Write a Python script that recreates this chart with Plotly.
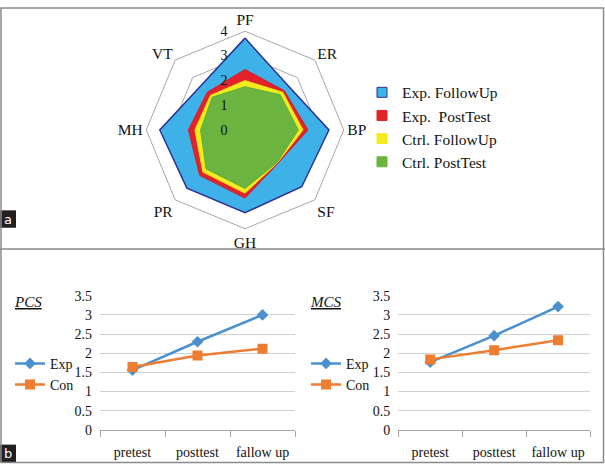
import plotly.graph_objects as go

W, H = 605, 472

# ---- radar data (order clockwise from top) ----
radar_axes = ["PF", "ER", "BP", "SF", "GH", "PR", "MH", "VT"]
exp_followup = [3.72, 2.50, 3.40, 3.25, 3.35, 3.33, 3.45, 2.53]
exp_posttest = [2.45, 2.25, 2.55, 1.90, 2.76, 2.60, 2.29, 2.16]
ctrl_followup = [2.00, 2.16, 2.35, 1.87, 2.56, 2.41, 2.03, 1.98]
ctrl_posttest = [1.75, 2.02, 2.16, 1.85, 2.37, 2.23, 1.80, 1.88]
radar_names = ["Exp. FollowUp", "Exp.  PostTest", "Ctrl. FollowUp", "Ctrl. PostTest"]
radar_colors = ["#3EB2E8", "#E3222A", "#F2EC1C", "#6BB43F"]
radar_lines = ["#2E3192", "#D0202A", "#E8E020", "#64AC3A"]

# ---- line charts ----
phases = ["pretest", "posttest", "fallow up"]
pcs_exp = [1.56, 2.30, 3.00]
pcs_con = [1.64, 1.94, 2.12]
mcs_exp = [1.77, 2.46, 3.22]
mcs_con = [1.84, 2.08, 2.34]

SERIF = "Liberation Serif, Times New Roman, serif"
EXP_C = "#4A90CF"
CON_C = "#ED7D31"

fig = go.Figure()

for vals, name, col, lc in zip([exp_followup, exp_posttest, ctrl_followup, ctrl_posttest],
                               radar_names, radar_colors, radar_lines):
    fig.add_trace(go.Scatterpolar(
        r=vals + vals[:1], theta=radar_axes + radar_axes[:1],
        mode="lines", fill="toself", fillcolor=col,
        line=dict(color=lc, width=1.5 if lc == "#2E3192" else 1),
        showlegend=False, hoverinfo="skip"))
# legend entries (square swatches)
for name, col, lc in zip(radar_names, radar_colors, radar_lines):
    fig.add_trace(go.Scatterpolar(
        r=[None], theta=[radar_axes[0]], mode="markers", name=name,
        marker=dict(symbol="square", size=10, color=col,
                    line=dict(color=lc if lc == "#2E3192" else col, width=1)),
        legend="legend"))

# PCS
fig.add_trace(go.Scatter(x=phases, y=pcs_exp, name="Exp", mode="lines+markers",
                         line=dict(color=EXP_C, width=2.5),
                         marker=dict(symbol="diamond", size=9, color=EXP_C),
                         xaxis="x", yaxis="y", legend="legend2"))
fig.add_trace(go.Scatter(x=phases, y=pcs_con, name="Con", mode="lines+markers",
                         line=dict(color=CON_C, width=2.5),
                         marker=dict(symbol="square", size=10, color=CON_C),
                         xaxis="x", yaxis="y", legend="legend2"))
# MCS
fig.add_trace(go.Scatter(x=phases, y=mcs_exp, name="Exp", mode="lines+markers",
                         line=dict(color=EXP_C, width=2.5),
                         marker=dict(symbol="diamond", size=9, color=EXP_C),
                         xaxis="x2", yaxis="y2", legend="legend3"))
fig.add_trace(go.Scatter(x=phases, y=mcs_con, name="Con", mode="lines+markers",
                         line=dict(color=CON_C, width=2.5),
                         marker=dict(symbol="square", size=10, color=CON_C),
                         xaxis="x2", yaxis="y2", legend="legend3"))

def px(x):
    return x / W

def py(y):
    return 1 - y / H

cx, cy, R = 245, 127, 102
xa_common = dict(type="category", tickson="boundaries", ticks="outside", ticklen=6,
                 tickcolor="#A6A6A6", showgrid=False, showline=True, linecolor="#A6A6A6",
                 linewidth=1, tickfont=dict(family=SERIF, size=14, color="#111"),
                 ticklabelstandoff=9,
                 range=[-0.5, 2.5], fixedrange=True)
ya_common = dict(range=[0, 3.5], dtick=0.5, showgrid=True, gridcolor="#D0D0D0",
                 gridwidth=1, zeroline=False, showline=False, ticks="",
                 ticklabelstandoff=7,
                 tickfont=dict(family=SERIF, size=14, color="#111"),
                 tickformat="~g")

leg_font = dict(family=SERIF, size=14, color="#111")

fig.update_layout(
    width=W, height=H, margin=dict(l=0, r=0, t=0, b=0),
    paper_bgcolor="white", plot_bgcolor="white",
    polar=dict(
        domain=dict(x=[px(cx - R), px(cx + R)], y=[py(cy + R), py(cy - R)]),
        gridshape="linear", bgcolor="rgba(0,0,0,0)",
        radialaxis=dict(range=[0, 4], tickvals=[0, 1, 2, 3, 4], angle=90,
                        side="counterclockwise", showline=False, tickangle=90,
                        gridcolor="#A8A8A8", gridwidth=1,
                        ticks="outside", ticklen=12, tickcolor="rgba(0,0,0,0)",
                        tickfont=dict(family=SERIF, size=14, color="#111"),
                        layer="above traces"),
        angularaxis=dict(rotation=90, direction="clockwise", showgrid=False,
                         showline=True, linecolor="#A8A8A8", linewidth=1, ticks="",
                         tickfont=dict(family=SERIF, size=15.5, color="#111"))),
    xaxis=dict(domain=[px(100), px(295)], anchor="y", **xa_common),
    yaxis=dict(domain=[py(436.7), py(298.3)], anchor="x", **ya_common),
    xaxis2=dict(domain=[px(398.3), px(590)], anchor="y2", **xa_common),
    yaxis2=dict(domain=[py(436.7), py(298.3)], anchor="x2", **ya_common),
    legend=dict(x=px(362), y=py(71), xanchor="left", yanchor="top",
                font=dict(family=SERIF, size=15.5, color="#111"),
                bgcolor="rgba(0,0,0,0)", tracegroupgap=0),
    legend2=dict(x=px(10), y=py(352), xanchor="left", yanchor="top", font=leg_font,
                 bgcolor="rgba(0,0,0,0)"),
    legend3=dict(x=px(306), y=py(352), xanchor="left", yanchor="top", font=leg_font,
                 bgcolor="rgba(0,0,0,0)"),
    showlegend=True,
)

fig.add_annotation(x=px(28), y=py(305), xref="paper", yref="paper", showarrow=False,
                   xanchor="center", yanchor="middle",
                   text="<i><u>PCS</u></i>", font=dict(family=SERIF, size=15, color="#111"))
fig.add_annotation(x=px(326), y=py(305), xref="paper", yref="paper", showarrow=False,
                   xanchor="center", yanchor="middle",
                   text="<i><u>MCS</u></i>", font=dict(family=SERIF, size=15, color="#111"))

# panel labels
for lab, ytop in [("a", 210), ("b", 452)]:
    fig.add_shape(type="rect", xref="paper", yref="paper", x0=0, x1=px(16),
                  y0=py(ytop + 18), y1=py(ytop), fillcolor="#231F20", line=dict(width=0))
    fig.add_annotation(x=px(8), y=py(ytop + 9), xref="paper", yref="paper",
                       xanchor="center", yanchor="middle",
                       showarrow=False, text=lab,
                       font=dict(family="DejaVu Sans", size=13, color="white"))

# frames
fig.add_shape(type="rect", xref="paper", yref="paper", x0=px(1), x1=px(603.5),
              y0=py(470.5), y1=py(1), line=dict(color="#8A8A8A", width=1.5))
fig.add_shape(type="line", xref="paper", yref="paper", x0=0, x1=1,
              y0=py(250), y1=py(250), line=dict(color="#8A8A8A", width=1.5))

fig.write_html("out.html", post_script="document.body.style.margin='0px';",
               config={"displayModeBar": False})
